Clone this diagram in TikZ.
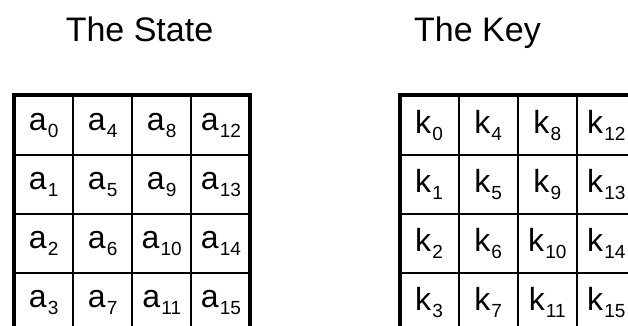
\documentclass[tikz,border=0pt]{standalone}
\usepackage{fontspec}
\setmainfont{Liberation Sans}
\newcommand{\celltext}[2]{\fontsize{32}{34}\selectfont #1\kern1.2pt\raisebox{-7pt}{\fontsize{19}{21}\selectfont #2}}
\begin{document}
\begin{tikzpicture}[x=1pt,y=-1pt,
  cellbox/.style={draw, line width=1.8pt, minimum width=59.1pt, minimum height=59.1pt,
    inner sep=0pt, outer sep=0pt, anchor=center},
  frame/.style={draw, line width=4pt},
  title/.style={font=\fontsize{34}{38}\selectfont, anchor=base, inner sep=0pt}]
\useasboundingbox (0,0) rectangle (628,326);
\clip (0,0) rectangle (628,326);
\node[title] (tstate) at (139.5,42) {The State};
\node[title] (tkey) at (477.5,42) {The Key};
\foreach \c in {0,...,3} {
  \foreach \r in {0,...,3} {
    \pgfmathtruncatemacro\idx{4*\c+\r}
    \node[cellbox] (s\idx) at ({14+59.1*(\c+0.5)}, {95.5+59.1*(\r+0.5)}) {\celltext{a}{\idx}};
    \node[cellbox] (k\idx) at ({399.5+59.1*(\c+0.5)}, {95.5+59.1*(\r+0.5)}) {\celltext{k}{\idx}};
  }
}
\draw[frame] (s0.north west) rectangle (s15.south east);
\draw[frame] (k0.north west) rectangle (k15.south east);
\end{tikzpicture}
\end{document}
